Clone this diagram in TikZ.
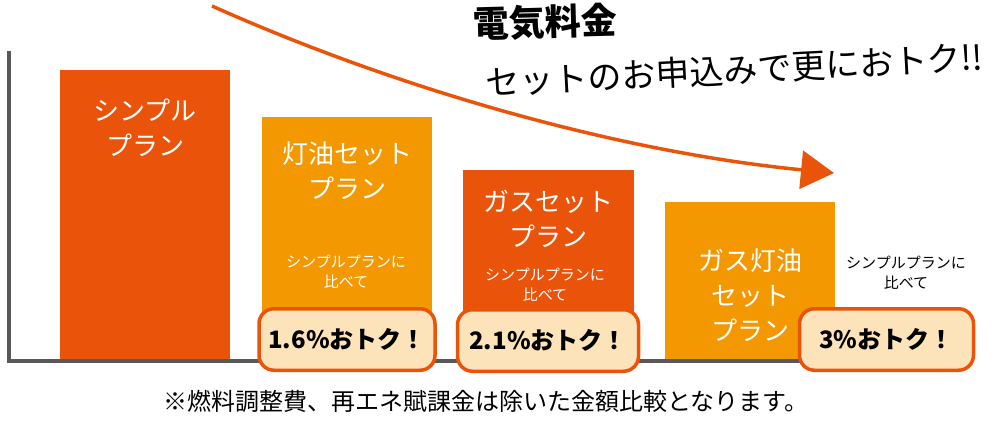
\documentclass[tikz,border=0pt]{standalone}
\usepackage{fontspec}
\setmainfont{Noto Sans CJK JP}
\usetikzlibrary{arrows.meta}
\definecolor{dorange}{HTML}{E9540A}
\definecolor{lorange}{HTML}{F39800}
\definecolor{peach}{HTML}{FDE3B9}
\definecolor{axisgray}{HTML}{595757}
\begin{document}
\begin{tikzpicture}[x=1pt,y=-1pt,
  bar/.style={draw=none, inner sep=0pt, anchor=south west},
  lbl/.style={text=white, align=center, inner sep=0pt, font=\fontsize{26}{35}\selectfont},
  sub/.style={align=center, inner sep=0pt, font=\fontsize{15}{20}\selectfont},
  badge/.style={draw=dorange, line width=3.5pt, fill=peach, rounded corners=15pt,
    minimum height=61.5pt, inner sep=0pt, font=\bfseries\fontsize{24}{28}\selectfont},
  axisline/.style={draw=axisgray, line width=4pt},
  curve/.style={draw=dorange, line width=3.5pt},
  titletext/.style={inner sep=0pt, text height=0.8em, text depth=0.05em},
]
\useasboundingbox (0,0) rectangle (1000,423);

% bars
\node[bar, fill=dorange, minimum width=170pt, minimum height=292pt] (b1) at (60,362) {};
\node[bar, fill=lorange, minimum width=170pt, minimum height=245pt] (b2) at (262,362) {};
\node[bar, fill=dorange, minimum width=171pt, minimum height=192pt] (b3) at (463,362) {};
\node[bar, fill=lorange, minimum width=170pt, minimum height=160pt] (b4) at (665,362) {};

% axes
\coordinate (ytop) at (9,51);
\coordinate (org) at (9,361);
\coordinate (xend) at (800,361);
\draw[axisline] (ytop) -- (org) -- (xend);

% bar labels
\node[lbl] (l1) at (145,127.5) {シンプル\\プラン};
\node[lbl] (l2) at (347,170.5) {灯油セット\\プラン};
\node[lbl] (l3) at (548,218.5) {ガスセット\\プラン};
\node[lbl] (l4) at (750,295) {ガス灯油\\セット\\プラン};

% sub texts
\node[sub, text=white] (s2) at (346,272) {シンプルプランに\\比べて};
\node[sub, text=white] (s3) at (545,285) {シンプルプランに\\比べて};
\node[sub, text=black] (s4) at (906,273) {シンプルプランに\\比べて};

% badges
\node[badge, minimum width=176pt] (g1) at (347,339.5) {1.6\%おトク！};
\node[badge, minimum width=181pt] (g2) at (548,340.5) {2.1\%おトク！};
\node[badge, minimum width=174pt] (g3) at (886.5,339.5) {3\%おトク！};

% arrow
\coordinate (as) at (212,6);
\coordinate (ae) at (834,173);
\draw[curve, -{Triangle[length=33pt,width=38pt]}] (as) .. controls (400,90) and (620,152) .. (ae);

% title
\node[titletext, font=\bfseries\fontsize{36}{40}\selectfont, rotate=1.5] (t1) at (545,32) {電気料金};
\node[titletext, font=\fontsize{34}{40}\selectfont, rotate=3] (t2) at (735,79) {セットのお申込みで更におトク!!};

% footnote
\node[font=\fontsize{24}{28}\selectfont, inner sep=0pt] (fn) at (486,401) {※燃料調整費、再エネ賦課金は除いた金額比較となります。};
\end{tikzpicture}
\end{document}
